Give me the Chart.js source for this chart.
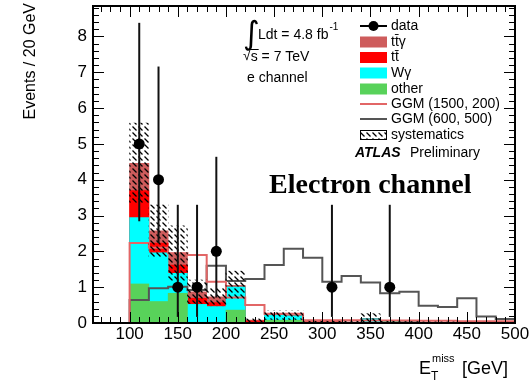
<!DOCTYPE html>
<html>
<head>
<meta charset="utf-8">
<script src="https://cdn.jsdelivr.net/npm/chart.js@4.4.1/dist/chart.umd.min.js"></script>
<style>
  html, body { margin: 0; padding: 0; background: #fff; }
</style>
</head>
<body>
<canvas id="c" width="530" height="380"></canvas>
<script>
// 20 GeV bins, 100-500 GeV
const binEdges = [100, 120, 140, 160, 180, 200, 220, 240, 260, 280, 300, 320, 340, 360, 380, 400, 420, 440, 460, 480, 500];
const binCenters = [110, 130, 150, 170, 190, 210, 230, 250, 270, 290, 310, 330, 350, 370, 390, 410, 430, 450, 470, 490];

// background components (events per bin)
const other   = [1.09, 0.60, 0.83, 0.02, 0.02, 0.36, 0.01, 0.08, 0.08, 0.01, 0.01, 0.01, 0.02, 0.03, 0.02, 0.01, 0.01, 0.01, 0.00, 0.00];
const wgamma  = [1.85, 1.36, 0.56, 0.50, 0.44, 0.65, 0.01, 0.14, 0.12, 0.01, 0.01, 0.01, 0.10, 0.01, 0.01, 0.01, 0.00, 0.00, 0.00, 0.00];
const ttbar   = [0.76, 0.27, 0.23, 0.17, 0.11, 0.01, 0.04, 0.00, 0.00, 0.01, 0.01, 0.00, 0.00, 0.00, 0.00, 0.00, 0.00, 0.00, 0.00, 0.00];
const ttgamma = [0.76, 0.34, 0.33, 0.18, 0.16, 0.03, 0.02, 0.03, 0.03, 0.01, 0.01, 0.01, 0.01, 0.00, 0.01, 0.00, 0.00, 0.00, 0.00, 0.00];

// systematic band
const sysLow  = [3.34, 1.84, 1.19, 0.55, 0.48, 0.66, 0.00, 0.10, 0.10, 0.00, 0.00, 0.00, 0.00, 0.00, 0.00, 0.00, 0.00, 0.00, 0.00, 0.00];
const sysHigh = [5.58, 3.30, 2.71, 1.20, 0.98, 1.45, 0.12, 0.34, 0.34, 0.05, 0.05, 0.05, 0.26, 0.05, 0.04, 0.03, 0.03, 0.02, 0.02, 0.02];

// signal points
const ggm1500 = [2.23, 2.10, 1.95, 1.90, 1.15, 0.71, 0.50, 0.26, 0.26, 0.08, 0.08, 0.08, 0.07, 0.07, 0.07, 0.06, 0.06, 0.05, 0.05, 0.05];
const ggm600  = [0.64, 0.97, 1.01, 0.92, 1.60, 1.17, 1.23, 1.62, 2.07, 1.82, 1.15, 1.31, 1.13, 0.83, 0.87, 0.48, 0.45, 0.69, 0.18, 0.11];

// data
const dataX    = [110, 130, 150, 170, 190, 310, 370];
const dataY    = [5, 4, 1, 1, 2, 1, 1];
const dataLow  = [2.84, 2.24, 0.17, 0.17, 0.71, 0.17, 0.17];
const dataHigh = [8.38, 7.16, 3.30, 3.30, 4.64, 3.30, 3.30];

const xTicks = [100, 150, 200, 250, 300, 350, 400, 450, 500];
const yTicks = [0, 1, 2, 3, 4, 5, 6, 7, 8];

const legendLabels = ['data', 'tt\u0304\u03b3', 'tt\u0304', 'W\u03b3', 'other', 'GGM (1500, 200)', 'GGM (600, 500)', 'systematics'];

const C_TTG = '#ce5c5c', C_TT = '#ff0000', C_WG = '#00ffff', C_OTHER = '#58d25a';
const C_GGM1 = '#e26666', C_GGM2 = '#555555';
const SANS = '"Liberation Sans", Arial, Helvetica, sans-serif';

function hatch() {
  const c = document.createElement('canvas');
  c.width = 6; c.height = 6;
  const g = c.getContext('2d');
  g.strokeStyle = '#000';
  g.lineWidth = 1.2;
  g.beginPath();
  g.moveTo(0.5, 0.5);
  g.lineTo(4.5, 4.5);
  g.stroke();
  return g.createPattern(c, 'repeat');
}
const hatchFill = hatch();

const cum = (...parts) => binCenters.map((x, i) => ({ x, y: parts.reduce((s, p) => s + p[i], 0) }));
function stepData(vals) {
  const pts = [{ x: binEdges[0], y: 0 }];
  vals.forEach((v, i) => pts.push({ x: binEdges[i], y: v }));
  pts.push({ x: binEdges[vals.length], y: vals[vals.length - 1] });
  return pts;
}

function barSet(label, data, color) {
  return { type: 'bar', label, data, backgroundColor: color, borderWidth: 0,
           barPercentage: 1, categoryPercentage: 1 };
}
function lineSet(label, vals, color) {
  return { type: 'line', label, data: stepData(vals), stepped: 'before', borderColor: color,
           borderWidth: 2, pointRadius: 0, fill: false };
}

// text glyph squeezed into a box (used for the integral sign)
function fitGlyph(ctx, ch, x, top, height, family) {
  ctx.font = '40px ' + family;
  ctx.textBaseline = 'alphabetic';
  const m = ctx.measureText(ch);
  const h = m.actualBoundingBoxAscent + m.actualBoundingBoxDescent;
  const size = 40 * height / h;
  ctx.font = size.toFixed(1) + 'px ' + family;
  const m2 = ctx.measureText(ch);
  ctx.fillText(ch, x + m2.actualBoundingBoxLeft, top + m2.actualBoundingBoxAscent);
}

const decor = {
  id: 'decor',
  beforeDatasetDraw(chart, args) {
    if (args.meta.label !== 'data') return;
    const { ctx, scales: { x, y } } = chart;
    ctx.save();
    ctx.strokeStyle = '#111';
    ctx.lineWidth = 2;
    dataX.forEach((v, i) => {
      const px = x.getPixelForValue(v);
      ctx.beginPath();
      ctx.moveTo(px, y.getPixelForValue(dataLow[i]));
      ctx.lineTo(px, y.getPixelForValue(dataHigh[i]));
      ctx.stroke();
    });
    ctx.restore();
  },
  afterDraw(chart) {
    const { ctx, chartArea: a, scales: { x, y } } = chart;
    ctx.save();
    // ticks on all four sides
    ctx.strokeStyle = '#000';
    ctx.lineWidth = 1;
    ctx.beginPath();
    for (let k = 0; k <= 44; k++) {
      const v = k / 5;
      const py = Math.round(y.getPixelForValue(v)) + 0.5;
      const len = k % 5 === 0 ? 11 : 6;
      ctx.moveTo(a.left, py); ctx.lineTo(a.left + len, py);
      ctx.moveTo(a.right, py); ctx.lineTo(a.right - len, py);
    }
    for (let v = 70; v <= 500; v += 10) {
      const px = Math.round(x.getPixelForValue(v)) + 0.5;
      const len = v % 50 === 0 ? 11 : 6;
      ctx.moveTo(px, a.bottom); ctx.lineTo(px, a.bottom - len);
      ctx.moveTo(px, a.top); ctx.lineTo(px, a.top + len);
    }
    ctx.stroke();
    ctx.lineWidth = 2;
    ctx.strokeRect(a.left, a.top, a.right - a.left, a.bottom - a.top);

    // axis titles
    ctx.fillStyle = '#000';
    ctx.font = '16px ' + SANS;
    ctx.save();
    ctx.translate(31, 3);
    ctx.rotate(-Math.PI / 2);
    ctx.textAlign = 'right';
    ctx.textBaseline = 'middle';
    ctx.fillText('Events / 20 GeV', 0, 0);
    ctx.restore();

    ctx.textAlign = 'left';
    ctx.textBaseline = 'alphabetic';
    ctx.font = '18px ' + SANS;
    ctx.fillText('E', 419, 374);
    ctx.font = '12px ' + SANS;
    ctx.fillText('T', 431, 380);
    ctx.font = '11px ' + SANS;
    ctx.fillText('miss', 432, 362);
    ctx.font = '18px ' + SANS;
    ctx.fillText('[GeV]', 462, 374);

    // legend
    const rowY = [26, 42, 57.5, 73, 89, 104, 119, 135];
    const bx = 360, bw = 27, tx = 391;
    ctx.font = '14px ' + SANS;
    ctx.textBaseline = 'middle';
    ctx.strokeStyle = '#000';
    ctx.lineWidth = 2;
    ctx.beginPath(); ctx.moveTo(bx, rowY[0]); ctx.lineTo(bx + bw, rowY[0]); ctx.stroke();
    ctx.beginPath(); ctx.arc(bx + bw / 2, rowY[0], 5, 0, Math.PI * 2); ctx.fill();
    [C_TTG, C_TT, C_WG, C_OTHER].forEach((col, i) => {
      ctx.fillStyle = col;
      ctx.fillRect(bx, rowY[i + 1] - 5.5, bw, 11);
    });
    [C_GGM1, C_GGM2].forEach((col, i) => {
      ctx.strokeStyle = col;
      ctx.beginPath(); ctx.moveTo(bx, rowY[i + 5]); ctx.lineTo(bx + bw, rowY[i + 5]); ctx.stroke();
    });
    ctx.fillStyle = hatchFill;
    ctx.fillRect(bx, rowY[7] - 5, bw, 10);
    ctx.strokeStyle = '#000';
    ctx.lineWidth = 1;
    ctx.strokeRect(bx + 0.5, rowY[7] - 4.5, bw - 1, 9);
    ctx.fillStyle = '#000';
    legendLabels.forEach((t, i) => ctx.fillText(t, tx, rowY[i]));

    ctx.font = 'italic bold 14px ' + SANS;
    ctx.fillText('ATLAS', 355, 153);
    ctx.font = '14px ' + SANS;
    ctx.fillText('Preliminary', 410, 153);

    // luminosity block
    fitGlyph(ctx, '\u222b', 244, 19, 32, '"DejaVu Sans", ' + SANS);
    ctx.textBaseline = 'middle';
    ctx.font = '14px ' + SANS;
    ctx.fillText('Ldt = 4.8 fb', 258, 35);
    const w = ctx.measureText('Ldt = 4.8 fb').width;
    ctx.font = '10px ' + SANS;
    ctx.fillText('-1', 258 + w + 1, 27);
    ctx.font = '14px ' + SANS;
    ctx.fillText('\u221a', 243, 56);
    const ws = ctx.measureText('\u221a').width;
    ctx.fillText('s = 7 TeV', 243 + ws, 57);
    ctx.lineWidth = 1;
    ctx.beginPath();
    ctx.moveTo(243 + ws - 1, 49.5);
    ctx.lineTo(243 + ws + ctx.measureText('s').width + 1, 49.5);
    ctx.stroke();
    ctx.fillText('e channel', 247, 78);

    ctx.font = 'bold 28px "Liberation Serif", "Times New Roman", serif';
    ctx.textBaseline = 'alphabetic';
    ctx.fillText('Electron channel', 269, 193);
    ctx.restore();
  }
};

const tickFont = { size: 17, family: SANS };

new Chart(document.getElementById('c'), {
  type: 'bar',
  data: {
    datasets: [
      { type: 'scatter', label: 'data', data: dataX.map((v, i) => ({ x: v, y: dataY[i] })),
        pointRadius: 5.5, pointBackgroundColor: '#000', pointBorderColor: '#000', pointBorderWidth: 0, showLine: false },
      { type: 'bar', label: 'systematics', data: binCenters.map((v, i) => ({ x: v, y: [sysLow[i], sysHigh[i]] })),
        backgroundColor: hatchFill, borderWidth: 0, barPercentage: 1, categoryPercentage: 1 },
      lineSet('GGM (1500, 200)', ggm1500, C_GGM1),
      lineSet('GGM (600, 500)', ggm600, C_GGM2),
      barSet('other', cum(other), C_OTHER),
      barSet('Wgamma', cum(other, wgamma), C_WG),
      barSet('ttbar', cum(other, wgamma, ttbar), C_TT),
      barSet('ttgamma', cum(other, wgamma, ttbar, ttgamma), C_TTG),
    ]
  },
  options: {
    responsive: false,
    animation: false,
    devicePixelRatio: 1,
    layout: { padding: { left: 0, right: 15, top: 6, bottom: 0 } },
    plugins: { legend: { display: false }, tooltip: { enabled: false } },
    scales: {
      x: {
        type: 'linear', min: 62, max: 500, stacked: true, offset: false,
        grid: { display: false, drawTicks: false }, border: { display: false },
        ticks: { font: tickFont, color: '#000', padding: 1, maxRotation: 0, autoSkip: false },
        afterBuildTicks: s => { s.ticks = xTicks.map(v => ({ value: v })); },
        afterFit: s => { s.height = 57; s.paddingLeft = 0; s.paddingRight = 0; }
      },
      y: {
        min: 0, max: 8.85, stacked: false,
        grid: { display: false, drawTicks: false }, border: { display: false },
        ticks: { font: tickFont, color: '#000', padding: 6 },
        afterBuildTicks: s => { s.ticks = yTicks.map(v => ({ value: v })); },
        afterFit: s => { s.width = 93; s.paddingTop = 0; s.paddingBottom = 0; }
      }
    }
  },
  plugins: [decor]
});
</script>
</body>
</html>
